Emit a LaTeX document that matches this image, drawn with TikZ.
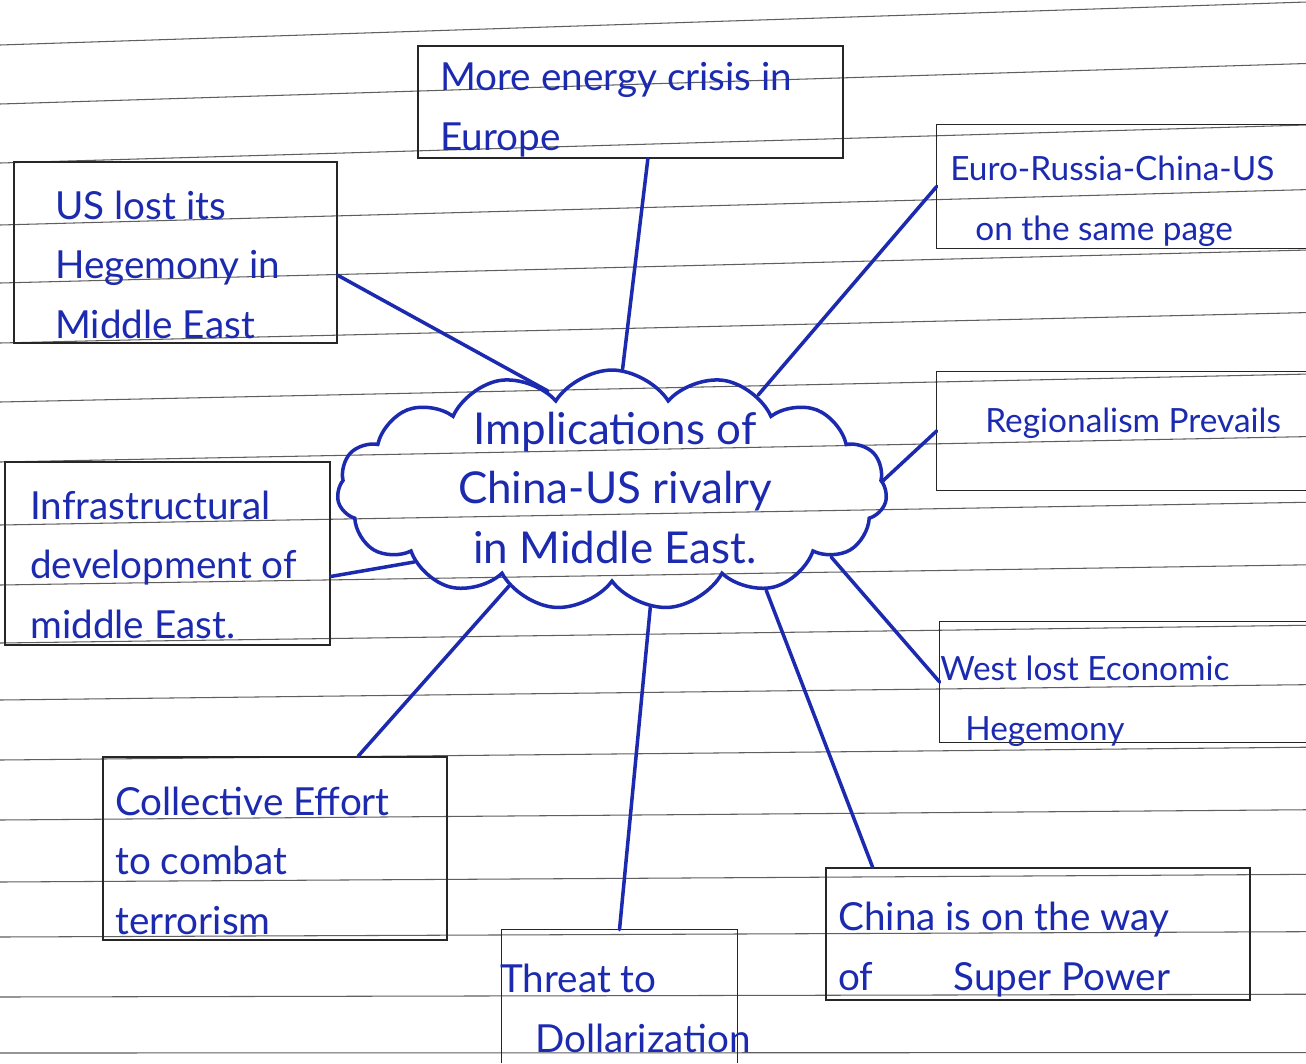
\documentclass[tikz,border=0pt]{standalone}
\usepackage{fontspec}
\setmainfont{Lato}
\usetikzlibrary{shapes.symbols,fit}
\definecolor{penblue}{RGB}{28,42,175}
\definecolor{ruleg}{RGB}{95,95,95}
\tikzset{
  rule/.style={draw=ruleg, line width=0.6pt},
  boxn/.style={draw=black!85, line width=0.9pt, inner sep=0pt},
  openbox/.style={draw=none, inner sep=0pt},
  edge/.style={draw=black!85, line width=0.9pt},
  hand/.style={text=penblue, font=\fontsize{22}{33.6}\selectfont, inner sep=0pt, anchor=base west, align=left},
  handsm/.style={hand, font=\fontsize{19}{33.6}\selectfont},
  link/.style={draw=penblue, line width=2pt, line cap=round},
}
\begin{document}
\begin{tikzpicture}[x=0.02cm, y=-0.02cm]
\useasboundingbox[fill=white] (0,0) rectangle (1306,1063);
% ruled paper
\foreach \L in {45,104,163,225,283,343,402,462,525,585,643,700,760,820,882,937,997,1053}{
  \draw[rule] (0,\L) -- (1306,{\L-38*(1-(\L-163)/900)});
}
% boxes
\node[boxn, fit={(418,46) (843,158)}] (b1) {};
\node[openbox, fit={(937,125) (1306,248)}] (b2) {};
\draw[edge] (b2.north east) -- (b2.north west) -- (b2.south west) -- (b2.south east);
\node[boxn, fit={(14,162) (337,343)}] (b3) {};
\node[openbox, fit={(937,372) (1306,490)}] (b4) {};
\draw[edge] (b4.north east) -- (b4.north west) -- (b4.south west) -- (b4.south east);
\node[boxn, fit={(5,462) (330,645)}] (b5) {};
\node[openbox, fit={(940,622) (1306,742)}] (b6) {};
\draw[edge] (b6.north east) -- (b6.north west) -- (b6.south west) -- (b6.south east);
\node[boxn, fit={(103,757) (447,940)}] (b7) {};
\node[openbox, fit={(502,930) (737,1063)}] (b8) {};
\draw[edge] (b8.south west) -- (b8.north west) -- (b8.north east) -- (b8.south east);
\node[boxn, fit={(826,868) (1250,1000)}] (b9) {};
% texts (anchor = baseline of the last line)
\node[hand] (t1) at (440,150) {More energy crisis in\\Europe};
\node[handsm] (t2) at (950,240) {Euro-Russia-China-US\\\hspace*{0.5cm}on the same page};
\node[hand] (t3) at (55,338) {US lost its\\Hegemony in\\Middle East};
\node[handsm] (t4) at (985,432) {Regionalism Prevails};
\node[hand] (t5) at (30,638) {Infrastructural\\development of\\middle East.};
\node[handsm] (t6) at (940,740) {West lost Economic\\\hspace*{0.5cm}Hegemony};
\node[hand] (t7) at (115,934) {Collective Effort\\to combat\\terrorism};
\node[hand] (t8) at (500,1052) {Threat to\\\hspace*{0.7cm}Dollarization};
\node[hand] (t9) at (838,990) {China is on the way\\of\hspace*{1.6cm}Super Power};
% central cloud
\node[cloud, cloud puffs=15, cloud puff arc=115, cloud ignores aspect, draw=penblue, line width=2pt,
      minimum width=11cm, minimum height=4.8cm] (cloud) at (612,490) {};
\node[text=penblue, font=\fontsize{25}{33.6}\selectfont, inner sep=0pt, align=center, anchor=base] (ct) at (615,563)
  {Implications of\\China-US rivalry\\in Middle East.};
% connectors
\draw[link] (cloud.85) -- (b1.-73);
\draw[link] (cloud.33) -- (b2.west);
\draw[link] (cloud.123) -- (b3.-8);
\draw[link] (cloud.2) -- (b4.west);
\draw[link] (cloud.200) -- (b5.-8);
\draw[link] (cloud.-17) -- (b6.west);
\draw[link] (cloud.223) -- (b7.48);
\draw[link] (cloud.-72) -- (b8.north);
\draw[link] (cloud.-33) -- (b9.158);
\end{tikzpicture}
\end{document}
